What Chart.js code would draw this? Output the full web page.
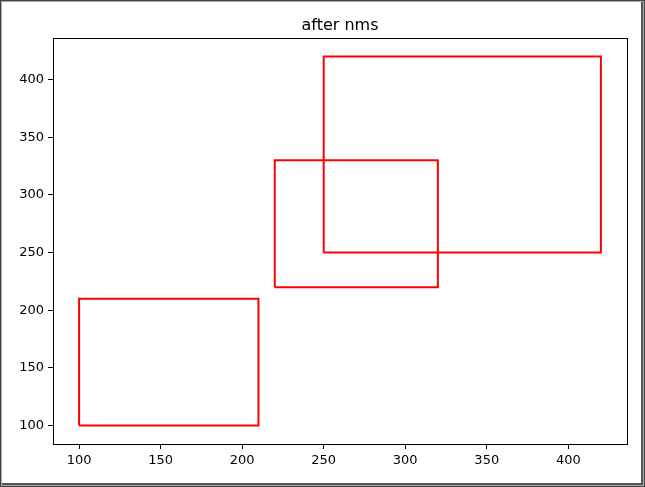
<!DOCTYPE html>
<html>
<head>
<meta charset="utf-8">
<script src="https://cdn.jsdelivr.net/npm/chart.js@4"></script>
<style>
  html, body { margin: 0; padding: 0; background: #fff; }
  #wrap { position: relative; width: 645px; height: 487px; }
  #c { position: absolute; left: 0; top: 0; }
  #frame {
    position: absolute; left: 0; top: 0; width: 645px; height: 487px;
    box-sizing: border-box; border: 1px solid #444;
    box-shadow: inset 0 0 0 1px #aaa, inset -1px -1px 0 2px #555;
    pointer-events: none;
  }
</style>
</head>
<body>
<div id="wrap">
  <canvas id="c" width="645" height="487"></canvas>
  <div id="frame"></div>
</div>
<script>
'use strict';

var titleText = 'after nms';
// boxes kept after nms: [x1, y1, x2, y2]
var boxX1 = [100, 220, 250];
var boxY1 = [100, 220, 250];
var boxX2 = [210, 320, 420];
var boxY2 = [210, 330, 420];
var xTicks = [100, 150, 200, 250, 300, 350, 400];
var yTicks = [100, 150, 200, 250, 300, 350, 400];
var axisMin = 84;
var axisMax = 436;

var datasets = boxX1.map(function (x1, i) {
    var x2 = boxX2[i], y1 = boxY1[i], y2 = boxY2[i];
    return {
        data: [
            {x: x1, y: y1}, {x: x2, y: y1}, {x: x2, y: y2},
            {x: x1, y: y2}, {x: x1, y: y1}
        ],
        borderColor: '#ff0000',
        borderWidth: 2,
        pointRadius: 0,
        fill: false,
        tension: 0
    };
});

var fontFamily = '"DejaVu Sans", sans-serif';

var boxPlugin = {
    id: 'axesBox',
    afterDraw: function (chart) {
        var ctx = chart.ctx, a = chart.chartArea;
        ctx.save();
        ctx.strokeStyle = '#000';
        ctx.lineWidth = 1;
        ctx.strokeRect(Math.round(a.left) + 0.5, Math.round(a.top) + 0.5,
            Math.round(a.right - a.left), Math.round(a.bottom - a.top));
        ctx.fillStyle = '#000';
        ctx.font = '16px ' + fontFamily;
        ctx.textAlign = 'center';
        ctx.textBaseline = 'alphabetic';
        ctx.fillText(titleText, (a.left + a.right) / 2, 30);
        ctx.restore();
    }
};

function axis(ticksArr, pos) {
    return {
        type: 'linear',
        position: pos,
        min: axisMin,
        max: axisMax,
        afterBuildTicks: function (scale) {
            scale.ticks = ticksArr.map(function (v) { return {value: v}; });
        },
        afterFit: function (scale) {
            if (pos === 'left') scale.width = 53;
            else scale.height = 43;
        },
        grid: {
            drawOnChartArea: false,
            drawTicks: true,
            tickLength: 5,
            tickColor: '#000',
            color: '#000'
        },
        border: { display: false },
        ticks: {
            color: '#000',
            padding: 4,
            maxRotation: 0,
            autoSkip: false,
            font: { family: fontFamily, size: 13 },
            callback: function (v) { return v; }
        }
    };
}

new Chart(document.getElementById('c'), {
    type: 'line',
    data: { datasets: datasets },
    options: {
        responsive: false,
        animation: false,
        layout: { padding: { left: 0, right: 18, top: 38, bottom: 0 } },
        plugins: {
            legend: { display: false },
            tooltip: { enabled: false }
        },
        scales: {
            x: axis(xTicks, 'bottom'),
            y: axis(yTicks, 'left')
        }
    },
    plugins: [boxPlugin]
});
</script>
</body>
</html>
